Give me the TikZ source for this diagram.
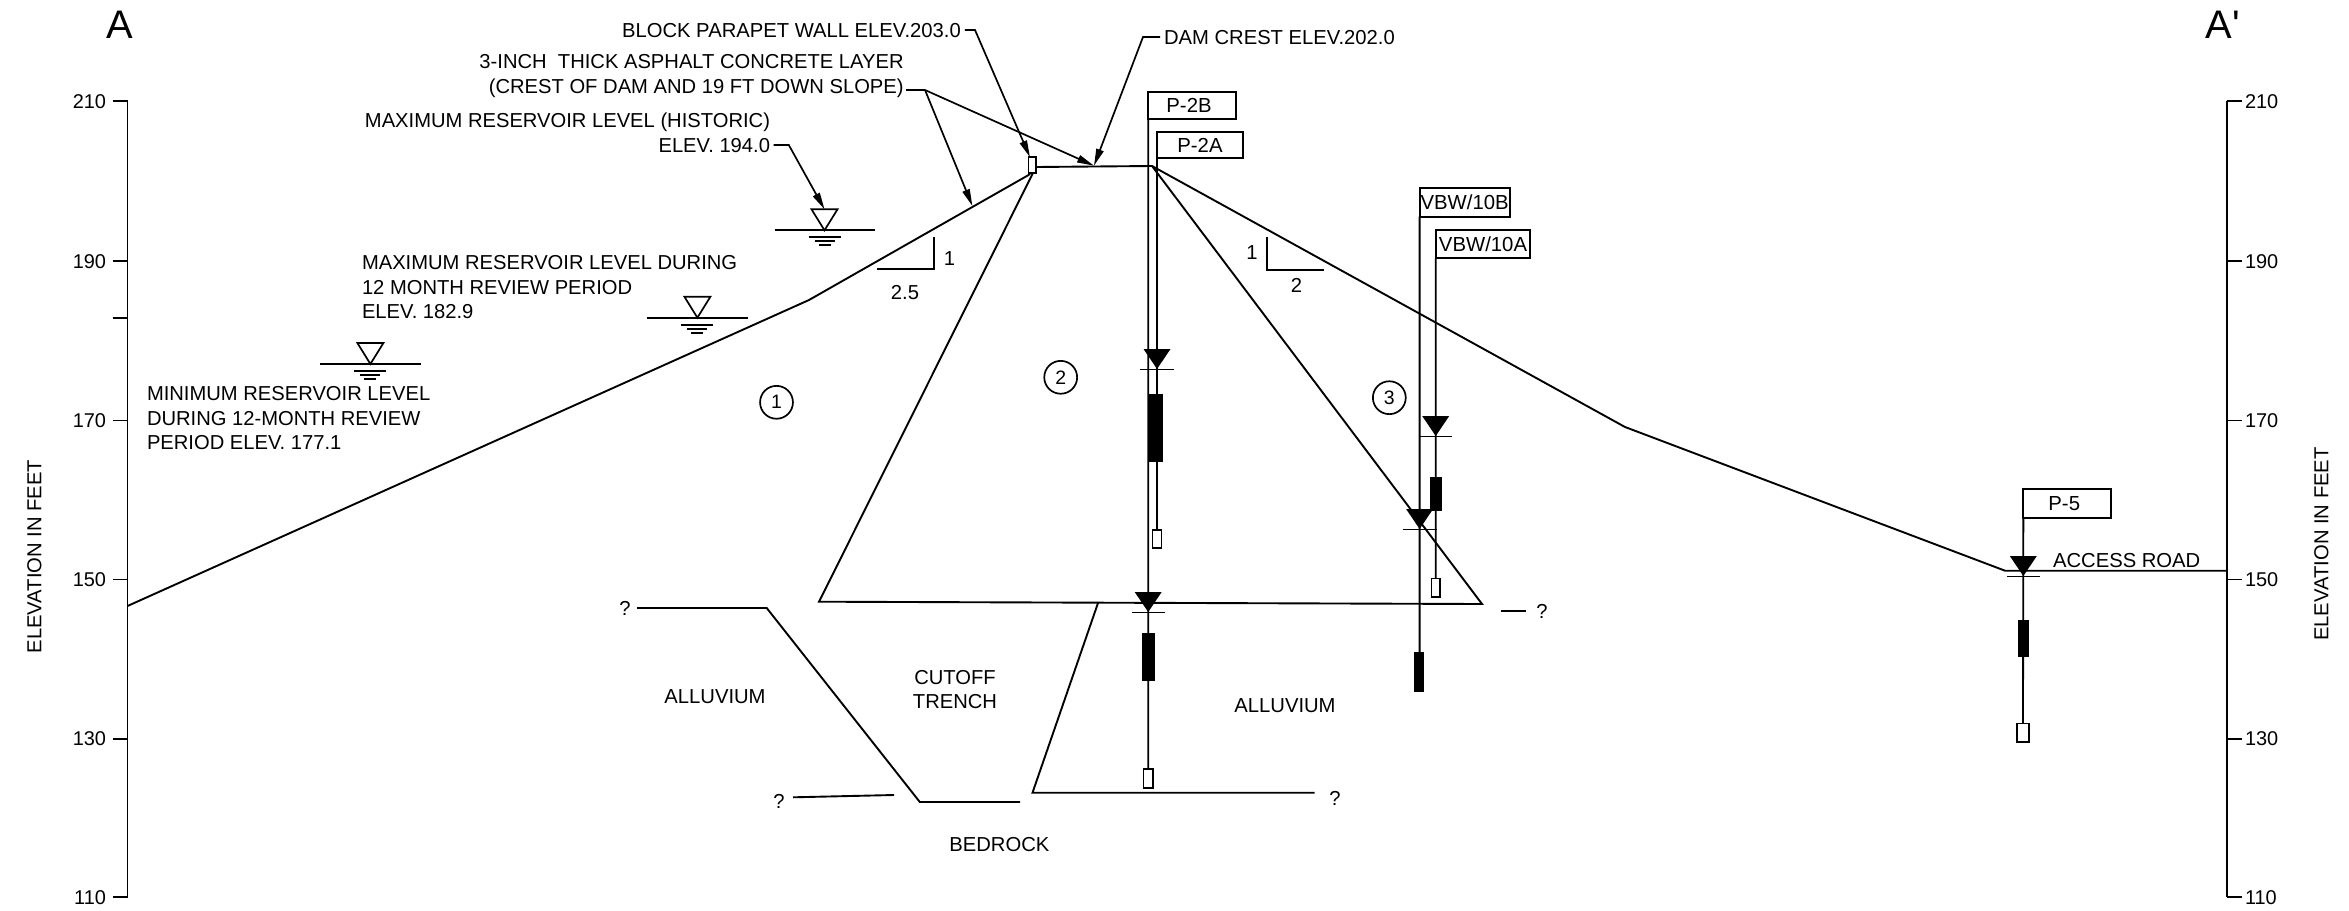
\documentclass[tikz,border=0pt]{standalone}
\usepackage{fontspec}
\setmainfont{Liberation Sans}
\newfontfamily\plainsans{Liberation Sans}
\usetikzlibrary{arrows.meta}
\tikzset{
  every node/.style={inner sep=0pt,outer sep=0pt},
  lab/.style={font=\fontsize{20.3}{24.6}\selectfont,text height=14.6pt,text depth=0pt},
  para/.style={font=\fontsize{20.25}{24.6}\selectfont},
  ticklab/.style={font=\fontsize{20}{24}\selectfont,text height=14.3pt,text depth=0pt},
  big/.style={font=\fontsize{40}{44}\selectfont,text height=28.6pt,text depth=0pt},
  ln/.style={line width=1.9pt,line cap=butt,line join=miter},
  thin2/.style={line width=1.8pt},
  leader/.style={line width=1.7pt,-{Stealth[length=17pt,width=7.5pt,inset=0pt]}},
  leadin/.style={line width=1.7pt},
  flag/.style={draw,line width=1.9pt,font=\fontsize{20.4}{24}\selectfont,text height=14.6pt,text depth=0pt,align=center},
  zone/.style={draw,circle,line width=1.7pt,minimum size=33pt,font=\fontsize{19.5}{23}\selectfont},
  solidscreen/.style={fill=black,draw=none},
  openscreen/.style={draw,fill=white,line width=1.7pt},
  wltri/.style={draw,fill=white,line width=1.7pt,line join=miter},
}
\newcommand{\gwmark}[3]{% x, tip y, half tick width
  \fill (#1-13.5,#2-20) -- (#1+13.5,#2-20) -- (#1,#2) -- cycle;
  \draw[thin2] (#1-#3,#2+0.5) -- (#1+#3,#2+0.5);
}
\newcommand{\resmark}[4]{% x, line y, left, right
  \draw[wltri] (#1-13,#2-21) -- (#1+13,#2-21) -- (#1,#2) -- cycle;
  \draw[ln] (#3,#2) -- (#4,#2);
  \draw[thin2] (#1-16,#2+7) -- (#1+16,#2+7);
  \draw[thin2] (#1-10,#2+11) -- (#1+10,#2+11);
  \draw[thin2] (#1-6,#2+15) -- (#1+6,#2+15);
}
\begin{document}
\begin{tikzpicture}[x=1bp,y=-1bp]
\useasboundingbox (0,0) rectangle (2349,910);
% axes
\draw[ln] (127.5,101) -- (127.5,897);
\draw[ln] (2226.7,101) -- (2226.7,897);
\foreach \yy/\tt in {101/210,261/190,420.5/170,579.5/150,738.7/130,897/110}{
  \draw[ln] (112.5,\yy) -- (127.5,\yy);
  \draw[ln] (2226.7,\yy) -- (2241.7,\yy);
  \node[ticklab,anchor=east] at (106,\yy) {\tt};
  \node[ticklab,anchor=west] at (2245,\yy) {\tt};
}
\draw[ln] (112.5,317.7) -- (127.5,317.7);
\node[lab,rotate=90] (elevl) at (34,556.5) {ELEVATION IN FEET};
\node[lab,rotate=90] (elevr) at (2321,544) {ELEVATION IN FEET};
\node[big] (secA) at (120,24) {A};
\node[big] (secB) at (2223,24) {\plainsans A'};

% ground and dam
\draw[ln] (127.5,606) -- (809,300) -- (1028.6,175) -- (1036,167) -- (1152,166)
  -- (1625,427) -- (2005,570.7) -- (2226.7,570.7);
\draw[ln] (1036,167) -- (819,601.7) -- (1482,604) -- (1152,166);
\draw[openscreen] (1028.6,157) rectangle (1036,173);
\draw[ln] (1098,603) -- (1032.5,792.7) -- (1314.7,792.7);
\draw[ln] (637,608) -- (766.7,608) -- (919.8,802) -- (1020,802);
\draw[ln] (793,797.3) -- (894,795);
\draw[ln] (1500.7,611) -- (1526.4,611);
\node[lab] (q1) at (625,608) {?};
\node[lab] (q2) at (779,801.7) {?};
\node[lab] (q3) at (1335,798) {?};
\node[lab] (q4) at (1542,611) {?};

% slope triangles
\draw[thin2] (934,237.3) -- (934,269.3) -- (876.5,269.3);
\node[lab] (s1a) at (949.5,258.3) {1};
\node[lab] (s1b) at (905,292.7) {2.5};
\draw[thin2] (1266.8,237.3) -- (1266.8,270) -- (1324.3,270);
\node[lab] (s2a) at (1252,252.3) {1};
\node[lab] (s2b) at (1296.4,285) {2};

% zones
\node[zone] (z1) at (776.5,402.3) {1};
\node[zone] (z2) at (1060.7,377.3) {2};
\node[zone] (z3) at (1389.3,397.7) {3};

% reservoir levels
\resmark{824.5}{230.3}{774.5}{874.5}
\resmark{697.4}{317.7}{647.4}{748}
\resmark{370.4}{364}{320.4}{421}

% labels
\node[lab,anchor=east,inner xsep=4pt] (lblock) at (964.8,30) {BLOCK PARAPET WALL ELEV.203.0};
\node[para,anchor=east,align=right] (lasph) at (903.6,76) {3-INCH\ \ THICK ASPHALT CONCRETE LAYER\\(CREST OF DAM AND 19 FT DOWN SLOPE)};
\node[lab,anchor=west] (lcrest) at (1164,37.5) {DAM CREST ELEV.202.0};
\node[para,anchor=east,align=right] (lhist) at (770,133) {MAXIMUM RESERVOIR LEVEL (HISTORIC)\\ELEV. 194.0};
\node[para,anchor=west,align=left] (lmax) at (362,287.5) {MAXIMUM RESERVOIR LEVEL DURING\\12 MONTH REVIEW PERIOD\\ELEV. 182.9};
\node[para,anchor=west,align=left] (lmin) at (147,418.5) {MINIMUM RESERVOIR LEVEL\\DURING 12-MONTH REVIEW\\PERIOD ELEV. 177.1};
\node[lab] (lallu1) at (715,696.7) {ALLUVIUM};
\node[lab] (lallu2) at (1285,705) {ALLUVIUM};
\node[para,align=center] (ltrench) at (955,689.5) {CUTOFF\\TRENCH};
\node[lab] (lbed) at (999.4,844) {BEDROCK};
\node[lab] (lroad) at (2126.7,560) {ACCESS ROAD};

% leaders
\coordinate (jblock) at (975,30);
\coordinate (parapettop) at (1030,157.3);
\coordinate (jasph) at (925,90);
\coordinate (asphstart) at (906,90);
\coordinate (crestpt) at (1094,165.7);
\coordinate (slopept) at (972.4,206);
\coordinate (jcrest) at (1143,37);
\coordinate (crestend) at (1160,37);
\coordinate (histstart) at (773.5,145);
\coordinate (jhist) at (788.8,145);
\coordinate (histpt) at (824.5,209.3);
\draw[leader] (lblock.east) -- (jblock) -- (parapettop);
\draw[leadin] (asphstart) -- (jasph);
\draw[leader] (jasph) -- (crestpt);
\draw[leader] (jasph) -- (slopept);
\draw[leader] (crestend) -- (jcrest) -- (crestpt);
\draw[leader] (histstart) -- (jhist) -- (histpt);

% piezometers: flags
\node[flag,minimum width=87.5bp,minimum height=27.6bp] (f2b) at (1192,105.5) {P-2B\kern6pt};
\node[flag,minimum width=86bp,minimum height=26.6bp] (f2a) at (1200,145) {P-2A};
\node[flag,minimum width=90bp,minimum height=29bp] (f10b) at (1464.6,202.2) {VBW/10B};
\node[flag,minimum width=94.7bp,minimum height=28.3bp] (f10a) at (1483,244.2) {VBW/10A};
\node[flag,minimum width=87.7bp,minimum height=28.7bp] (f5) at (2067.2,503.6) {P-5\kern6pt};

% piezometers: screens
\node[openscreen,minimum width=9.3bp,minimum height=19bp] (o2b) at (1148.2,778.5) {};
\node[openscreen,minimum width=8.9bp,minimum height=18bp] (o2a) at (1157,539) {};
\node[openscreen,minimum width=8.6bp,minimum height=18.7bp] (o10a) at (1435.7,587.7) {};
\node[openscreen,minimum width=11.7bp,minimum height=18.7bp] (o5) at (2023,732.7) {};
\draw[thin2] (f2b.south west) -- (o2b.north);
\draw[thin2] (f2a.south west) -- (o2a.north);
\draw[thin2] (f10b.south west) -- (1419.6,660);
\draw[thin2] (f10a.south west) -- (o10a.north);
\draw[thin2] (f5.south west) -- (o5.north);
\node[solidscreen,minimum width=14bp,minimum height=67.7bp] (b2a) at (1156,427.8) {};
\node[solidscreen,minimum width=13.4bp,minimum height=47.7bp] (b2b) at (1148.7,656.8) {};
\node[solidscreen,minimum width=10.3bp,minimum height=40bp] (b10b) at (1419.2,671.7) {};
\node[solidscreen,minimum width=12.4bp,minimum height=34.3bp] (b10a) at (1435.8,493.8) {};
\node[solidscreen,minimum width=11.6bp,minimum height=36.7bp] (b5) at (2023.5,638.3) {};

% groundwater marks
\gwmark{1157}{369}{17}
\gwmark{1148.2}{612}{16.5}
\gwmark{1419.6}{529}{17}
\gwmark{1435.7}{436}{16}
\gwmark{2023.3}{576}{16.5}
\end{tikzpicture}
\end{document}
